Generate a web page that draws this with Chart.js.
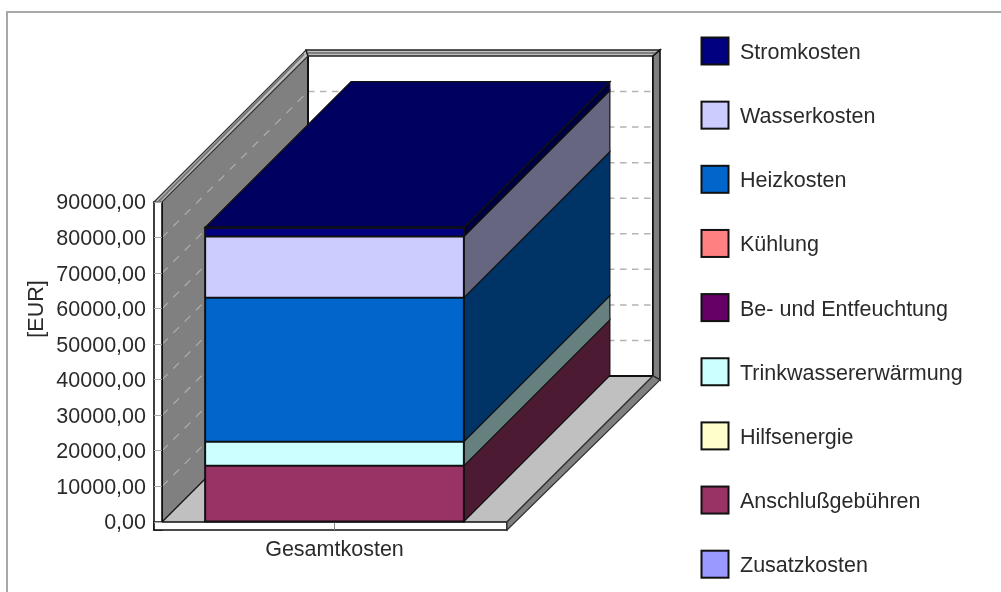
<!DOCTYPE html>
<html>
<head>
<meta charset="utf-8">
<style>html,body{margin:0;padding:0;background:#fff}canvas{display:block}</style>
<script src="https://cdn.jsdelivr.net/npm/chart.js@4"></script>
</head>
<body>
<canvas id="c" width="1001" height="592"></canvas>
<script>
const categories = ['Gesamtkosten'];
// Legend order, top to bottom (the stack is built from the bottom of this list upward)
const seriesNames = ['Stromkosten','Wasserkosten','Heizkosten','Kühlung','Be- und Entfeuchtung','Trinkwassererwärmung','Hilfsenergie','Anschlußgebühren','Zusatzkosten'];
const seriesValues = [2500,17200,40500,0,0,6800,0,15800,0];
const seriesColors = ['#000080','#CCCCFF','#0066CC','#FF8080','#660066','#CCFFFF','#FFFFCC','#993366','#9999FF'];
const yTickLabels = ['0,00','10000,00','20000,00','30000,00','40000,00','50000,00','60000,00','70000,00','80000,00','90000,00'];
const yTitle = '[EUR]';
const yMax = 90000, yStep = 10000;

const FONT = {family:'"Liberation Sans", Arial, sans-serif', size:21.5};
const TEXT = '#2a2a2a';
const DEPTH = 146, WALL = 8;

function shade(hex, f){
  const n = parseInt(hex.slice(1),16);
  const c = [n>>16&255, n>>8&255, n&255].map(v=>Math.round(v*f));
  return `rgb(${c[0]},${c[1]},${c[2]})`;
}
function poly(ctx, pts, fill, stroke, lw){
  ctx.beginPath();
  pts.forEach((p,i)=> i?ctx.lineTo(p[0],p[1]):ctx.moveTo(p[0],p[1]));
  ctx.closePath();
  if(fill){ctx.fillStyle=fill;ctx.fill();}
  if(stroke){ctx.strokeStyle=stroke;ctx.lineWidth=lw||1;ctx.stroke();}
}
function line(ctx,x1,y1,x2,y2,color,lw,dash){
  ctx.save();ctx.beginPath();ctx.setLineDash(dash||[]);ctx.moveTo(x1,y1);ctx.lineTo(x2,y2);
  ctx.strokeStyle=color;ctx.lineWidth=lw;ctx.stroke();ctx.restore();
}

const walls3d = {
  id:'walls3d',
  beforeDraw(chart){
    const ctx=chart.ctx, {left:l,right:r,top:t,bottom:b}=chart.chartArea, D=DEPTH, W=WALL, yS=chart.scales.y;
    const edge='#111';
    ctx.save();
    ctx.fillStyle='#fff';ctx.fillRect(0,0,chart.width,chart.height);
    // page frame
    ctx.fillStyle='#a8a8a8';ctx.fillRect(6,11,chart.width-6,2);ctx.fillRect(6,11,2,chart.height-11);
    // back wall
    poly(ctx,[[l+D,t-D],[r+D,t-D],[r+D,b-D],[l+D,b-D]],'#fff');
    // left wall and floor
    poly(ctx,[[l,t],[l+D,t-D],[l+D,b-D],[l,b]],'#808080');
    poly(ctx,[[l,b],[l+D,b-D],[r+D,b-D],[r,b]],'#C0C0C0');
    // gridlines on the walls
    yS.ticks.forEach(tk=>{
      if(tk.value===0||tk.value===yMax) return;
      const y=yS.getPixelForValue(tk.value);
      line(ctx,l,y,l+D,y-D,'#aeaeae',1.2,[8,8]);
      line(ctx,l+D,y-D,r+D,y-D,'#b4b4b4',1.5,[6.5,5.5]);
    });
    // inner edges
    line(ctx,l,t,l,b,edge,2);
    line(ctx,l+D,t-D,l+D,b-D,edge,2);
    line(ctx,l,b,l+D,b-D,edge,1.2);
    line(ctx,l+D,b-D,r+D,b-D,edge,2);
    line(ctx,r+D,t-D,r+D,b-D,edge,2);
    line(ctx,r,b,r+D,b-D,edge,1.2);
    // front strips
    poly(ctx,[[l-W,t],[l,t],[l,b+W],[l-W,b+W]],'#fff',edge,1.6);
    poly(ctx,[[l-W,b],[r,b],[r,b+W],[l-W,b+W]],'#fff',edge,1.6);
    // top and right bands of the frame
    poly(ctx,[[l-W,t],[l,t],[l+D,t-D],[l+D-2,t-D-W+2]],'#C0C0C0','#333',1.2);
    line(ctx,l-W/2,t,l+D-4,t-D-2,'#777',2);
    poly(ctx,[[l+D-2,t-D-W+2],[r+D+W-1,t-D-W+2],[r+D,t-D],[l+D,t-D]],'#C0C0C0','#222',1.6);
    line(ctx,l+D,t-D-3,r+D+3,t-D-3,'#808080',2);
    poly(ctx,[[r+D,t-D],[r+D+W-1,t-D-W+2],[r+D+W-1,b-D+4],[r+D,b-D]],'#808080','#111',1.6);
    // floor bevel
    poly(ctx,[[r,b],[r+D,b-D],[r+D+W-1,b-D+4],[r,b+W]],'#808080','#333',1.2);
    ctx.restore();
  },
  beforeDatasetsDraw(chart){
    const ctx=chart.ctx, D=DEPTH;
    const bars=[];
    chart.data.datasets.forEach((ds,i)=>{
      const el=chart.getDatasetMeta(i).data[0];
      if(ds.data[0]>0) bars.push({el,color:ds.backgroundColor});
    });
    bars.sort((a,b)=>b.el.base-a.el.base);
    ctx.save();
    bars.forEach(({el,color})=>{
      const xr=el.x+el.width/2;
      poly(ctx,[[xr,el.y],[xr+D,el.y-D],[xr+D,el.base-D],[xr,el.base]],shade(color,.5),'#111',1.2);
    });
    const topBar=bars[bars.length-1];
    if(topBar){
      const el=topBar.el, xl=el.x-el.width/2, xr=el.x+el.width/2;
      poly(ctx,[[xl,el.y],[xr,el.y],[xr+D,el.y-D],[xl+D,el.y-D]],shade(topBar.color,.75),'#111',1.4);
    }
    ctx.restore();
  },
  afterDatasetsDraw(chart){
    const ctx=chart.ctx, els=chart.data.datasets.map((ds,i)=>ds.data[0]>0?chart.getDatasetMeta(i).data[0]:null).filter(Boolean);
    const yTop=Math.min(...els.map(e=>e.y)), yBase=Math.max(...els.map(e=>e.base));
    const e=els[0], xl=e.x-e.width/2, xr=e.x+e.width/2;
    ctx.save();ctx.strokeStyle='#111';ctx.lineWidth=2;
    ctx.strokeRect(xl,yTop,e.width,yBase-yTop);
    els.forEach(el=>line(ctx,xl,el.y,xr,el.y,'#111',2));
    ctx.restore();
    // legend
    const X=701,BOX=27,Y0=51,STEP=64.15,TX=740;
    ctx.save();
    ctx.textBaseline='middle';ctx.textAlign='left';
    ctx.font=`${FONT.size}px ${FONT.family}`;
    seriesNames.forEach((name,i)=>{
      const y=Y0+i*STEP;
      ctx.fillStyle=seriesColors[i];ctx.fillRect(X+.5,y-BOX/2,BOX,BOX);
      ctx.strokeStyle='#111';ctx.lineWidth=2;ctx.strokeRect(X+.5,y-BOX/2,BOX,BOX);
      ctx.fillStyle=TEXT;ctx.fillText(name,TX,y+2);
    });
    // value axis title
    ctx.translate(37,309);ctx.rotate(-Math.PI/2);ctx.textAlign='center';
    ctx.fillText(yTitle,0,0);
    ctx.restore();
  }
};

// Datasets run bottom of the stack first
const order = seriesNames.map((_,i)=>i).reverse();
new Chart(document.getElementById('c'),{
  type:'bar',
  data:{
    labels:categories,
    datasets:order.map(i=>({
      label:seriesNames[i],
      data:[seriesValues[i]],
      backgroundColor:seriesColors[i],
      borderWidth:0,
      categoryPercentage:.75,
      barPercentage:1
    }))
  },
  options:{
    responsive:false,
    animation:false,
    layout:{padding:{left:0,right:494,top:202,bottom:0}},
    plugins:{legend:{display:false},tooltip:{enabled:false},title:{display:false}},
    scales:{
      x:{
        stacked:true,
        afterFit(s){s.height=70;},
        border:{display:false},
        grid:{drawOnChartArea:false,tickLength:8,color:'#888',offset:false},
        ticks:{font:FONT,color:TEXT,padding:7,maxRotation:0}
      },
      y:{
        stacked:true,min:0,max:yMax,
        afterFit(s){s.width=162;},
        border:{display:false},
        grid:{drawOnChartArea:false,tickLength:8,color:'#aaa'},
        ticks:{font:FONT,color:TEXT,padding:8,stepSize:yStep,autoSkip:false,labelOffset:1.5,
          callback:(v,i)=>yTickLabels[i]}
      }
    }
  },
  plugins:[walls3d]
});
</script>
</body>
</html>
